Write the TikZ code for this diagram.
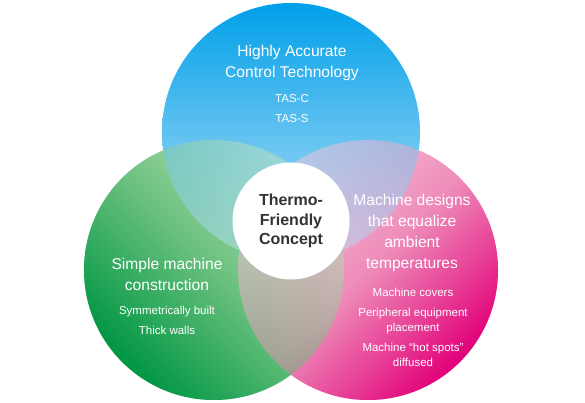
\documentclass[tikz,border=0pt]{standalone}
\usepackage{fontspec}
\setmainfont{Liberation Sans}
\usetikzlibrary{positioning}
\definecolor{bluetop}{RGB}{0,160,233}
\definecolor{bluebot}{RGB}{190,226,247}
\definecolor{greenlite}{RGB}{195,228,192}
\definecolor{greenmid}{RGB}{105,192,125}
\definecolor{greendark}{RGB}{0,150,68}
\definecolor{pinklite}{RGB}{246,200,222}
\definecolor{pinkmid}{RGB}{238,140,185}
\definecolor{pinkdark}{RGB}{226,0,122}
\definecolor{coretext}{RGB}{51,51,51}
\begin{document}
\begin{tikzpicture}[x=1pt, y=1pt,
  ring/.style={circle, minimum size=260pt, inner sep=0pt},
  blueshade/.style={top color=bluetop, bottom color=bluebot},
  greenshade/.style={top color=greenlite, bottom color=greendark, middle color=greenmid, shading angle=-45},
  pinkshade/.style={top color=pinklite, bottom color=pinkdark, middle color=pinkmid, shading angle=45},
  head/.style={align=center, text=white, inner sep=0pt, font=\fontsize{15.6}{21}\selectfont},
  items/.style={align=center, text=white, inner sep=0pt, font=\fontsize{11.5}{20}\selectfont},
  core/.style={circle, fill=white, minimum size=117pt, inner sep=0pt, align=center, text=coretext, font=\fontsize{16}{19.5}\selectfont\bfseries}]
\useasboundingbox (0,0) rectangle (585,402);
% the three circles
\node[ring, greenshade] (green) at (214,132) {};
\node[ring, pinkshade] (pink) at (368,132) {};
\node[ring, minimum size=258pt, blueshade] (blue) at (291,270) {};
% overlaps
\path[pinkshade, fill opacity=0.5] (pink.center) circle[radius=130];
\path[greenshade, fill opacity=0.5] (green.center) circle[radius=130];
% centre
\node[core] (concept) at (291,181) {Thermo-\\Friendly\\Concept};
% texts
\node[head] (bluehead) at (292,339.5) {Highly Accurate\\Control Technology};
\node[items] (blueitems) at (292,293) {TAS-C\\TAS-S};
\node[head] (greenhead) at (167,127.5) {Simple machine\\construction};
\node[items] (greenitems) at (167,82) {Symmetrically built\\Thick walls};
\node[head] (pinkhead) at (412,169.5) {Machine designs\\that equalize\\ambient\\temperatures};
\node[items, font=\fontsize{11.5}{15}\selectfont] (pinkitems) at (413,75) {Machine covers\\[5pt]Peripheral equipment\\placement\\[5pt]Machine “hot spots”\\diffused};
\end{tikzpicture}
\end{document}
